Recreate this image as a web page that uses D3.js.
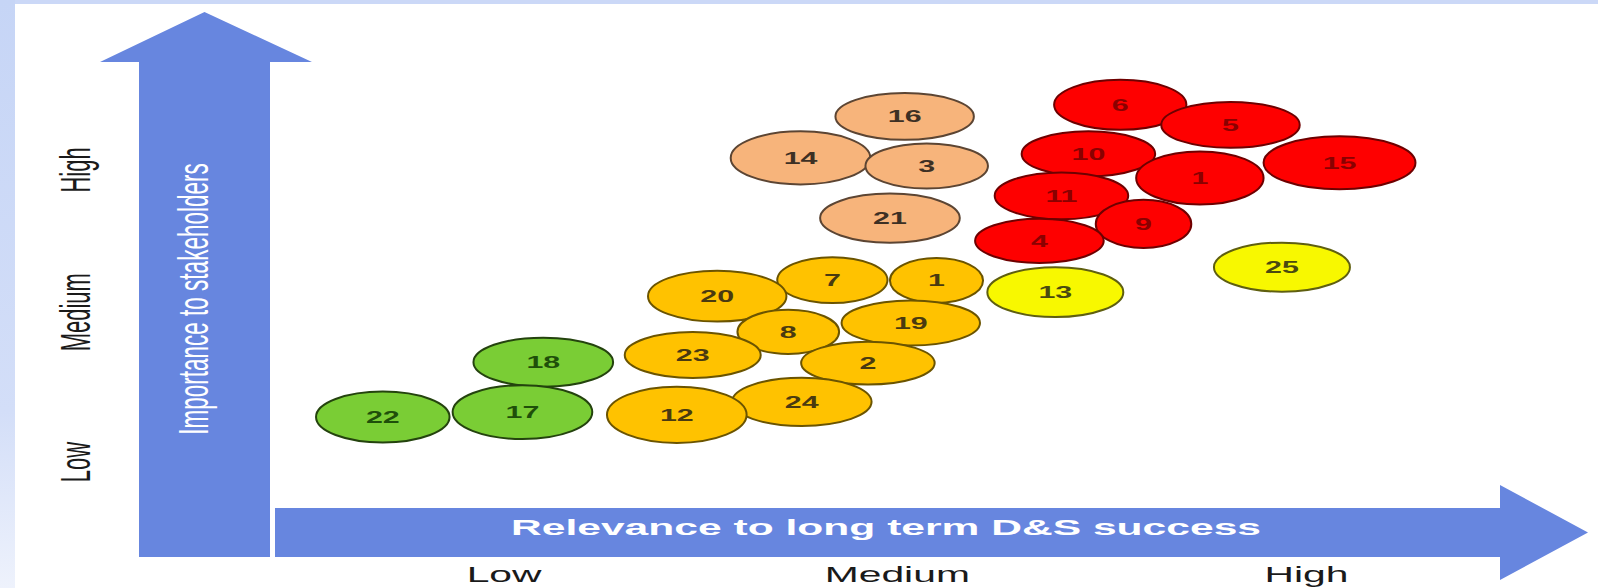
<!DOCTYPE html>
<html>
<head>
<meta charset="utf-8">
<script src="https://cdn.jsdelivr.net/npm/d3@7"></script>
<style>
  html, body { margin: 0; padding: 0; background: #ffffff; }
  svg { display: block; }
  text { font-family: "Liberation Sans", Arial, Helvetica, sans-serif; }
</style>
</head>
<body>
<div id="chart"></div>
<script>
// Materiality matrix: issue number, relevance (x), importance (y)
const issueIds = ["16", "14", "3", "21", "6", "5", "10", "1", "15", "11", "9", "4", "13", "25",
                  "20", "7", "1", "8", "19", "23", "2", "12", "24", "22", "17", "18"];
const relevance = [51.4, 42.9, 53.2, 50.2, 69.0, 78.0, 66.4, 75.5, 86.9, 64.2, 70.9, 62.4, 63.7, 82.2,
                   36.1, 45.5, 54.0, 41.9, 51.9, 34.1, 48.4, 32.8, 43.0, 8.8, 20.2, 21.9];
const importance = [87.8, 78.5, 76.7, 65.0, 90.4, 85.9, 79.4, 74.0, 77.4, 70.0, 63.7, 59.9, 48.4, 54.0,
                    47.5, 51.1, 51.0, 39.5, 41.5, 34.3, 32.5, 20.9, 23.8, 20.4, 21.5, 32.7];
// spread of each assessment along each axis (full width of the bubble, in axis units)
const relevanceSpread = [11.3, 11.4, 10.0, 11.4, 10.8, 11.3, 10.9, 10.4, 12.4, 10.9, 7.8, 10.5, 11.1, 11.1,
                         11.3, 9.0, 7.6, 8.3, 11.3, 11.1, 10.9, 11.4, 11.4, 10.9, 11.4, 11.4];
const importanceSpread = [10.5, 11.9, 10.1, 11.0, 11.2, 10.3, 10.1, 11.9, 11.9, 10.5, 10.8, 9.9, 11.2, 11.0,
                          11.4, 10.3, 10.1, 9.9, 10.1, 10.3, 9.6, 12.6, 10.8, 11.4, 12.1, 11.0];
const tiers = ["peach", "peach", "peach", "peach",
               "red", "red", "red", "red", "red", "red", "red", "red",
               "yellow", "yellow",
               "amber", "amber", "amber", "amber", "amber", "amber", "amber", "amber", "amber",
               "green", "green", "green"];

const tierNames = ["red", "peach", "yellow", "amber", "green"];
const xTickLabels = ["Low", "Medium", "High"];
const xTickValues = [18.7, 50.8, 84.2];
const yTickLabels = ["Low", "Medium", "High"];
const yTickValues = [10.3, 43.9, 75.8];
const xTitle = "Relevance to long term D&S success";
const yTitle = "Importance to stakeholders";

const W = 1598, H = 588;
const STRETCH = 1.9;           // wide-format slide: glyphs are stretched horizontally
const ARROW = "#6786df";

const x = d3.scaleLinear().domain([0, 100]).range([275, 1500]);
const y = d3.scaleLinear().domain([0, 100]).range([508, 62]);

const fill = d3.scaleOrdinal().domain(tierNames)
  .range(["#fe0000", "#f7b47b", "#f8f800", "#ffc200", "#7acd35"]);
const stroke = d3.scaleOrdinal().domain(tierNames)
  .range(["#6e0000", "#5c4533", "#5f5f10", "#6b5400", "#24430e"]);
const ink = d3.scaleOrdinal().domain(tierNames)
  .range(["#8a0000", "#3d3024", "#4a4a10", "#4a3a10", "#1f4f0a"]);

const svg = d3.select("#chart").append("svg")
  .attr("width", W).attr("height", H);

// slide frame
const defs = svg.append("defs");
const grad = defs.append("linearGradient").attr("id", "edge")
  .attr("x1", 0).attr("y1", 0).attr("x2", 0).attr("y2", 1);
grad.append("stop").attr("offset", "0%").attr("stop-color", "#c6d5f6");
grad.append("stop").attr("offset", "70%").attr("stop-color", "#d3def8");
grad.append("stop").attr("offset", "100%").attr("stop-color", "#eef2fc");
svg.append("rect").attr("x", 0).attr("y", 0).attr("width", W).attr("height", H).attr("fill", "#ffffff");
svg.append("rect").attr("x", 0).attr("y", 0).attr("width", W).attr("height", 4).attr("fill", "#cbd8f7");
svg.append("rect").attr("x", 0).attr("y", 0).attr("width", 15).attr("height", H).attr("fill", "url(#edge)");

// axis arrows, built from the scale ranges
const [x0, x1] = x.range();
const [y0, y1] = y.range();
const vShaft = [139, 270];
const vMid = (vShaft[0] + vShaft[1]) / 2;
const vertArrow = [
  [vShaft[0], 557], [vShaft[0], y1], [100, y1], [vMid, 12],
  [312, y1], [vShaft[1], y1], [vShaft[1], 557]
];
const hShaft = [y0, 557];
const hMid = (hShaft[0] + hShaft[1]) / 2;
const horizArrow = [
  [x0, hShaft[0]], [x1, hShaft[0]], [x1, 485], [1588, hMid],
  [x1, 580], [x1, hShaft[1]], [x0, hShaft[1]]
];
const line = d3.line();
svg.append("path").attr("d", line(vertArrow) + "Z").attr("fill", ARROW);
svg.append("path").attr("d", line(horizArrow) + "Z").attr("fill", ARROW);

// axis titles inside the arrows
svg.append("text")
  .attr("transform", `translate(208,299) scale(${STRETCH},1) rotate(-90)`)
  .attr("text-anchor", "middle")
  .attr("font-size", 22.5)
  .attr("fill", "#ffffff")
  .text(yTitle);

svg.append("text")
  .attr("transform", `translate(886,535) scale(${STRETCH},1)`)
  .attr("text-anchor", "middle")
  .attr("font-size", 22.5)
  .attr("font-weight", "bold")
  .attr("fill", "#ffffff")
  .attr("textLength", 750 / STRETCH)
  .attr("lengthAdjust", "spacingAndGlyphs")
  .text(xTitle);

// tick labels
svg.append("g").selectAll("text")
  .data(xTickLabels)
  .join("text")
  .attr("transform", (d, i) => `translate(${x(xTickValues[i])},582) scale(${STRETCH},1)`)
  .attr("text-anchor", "middle")
  .attr("font-size", 21.5)
  .attr("fill", "#1a1a1a")
  .text(d => d);

svg.append("g").selectAll("text")
  .data(yTickLabels)
  .join("text")
  .attr("transform", (d, i) => `translate(90,${y(yTickValues[i])}) scale(${STRETCH},1) rotate(-90)`)
  .attr("text-anchor", "middle")
  .attr("font-size", 22)
  .attr("fill", "#1a1a1a")
  .text(d => d);

// bubbles
const issues = issueIds.map((id, i) => ({
  id, rel: relevance[i], imp: importance[i],
  relSpread: relevanceSpread[i], impSpread: importanceSpread[i], tier: tiers[i]
})).sort((a, b) => b.imp - a.imp);

const bubble = svg.append("g").selectAll("g")
  .data(issues)
  .join("g");

bubble.append("ellipse")
  .attr("cx", d => x(d.rel))
  .attr("cy", d => y(d.imp))
  .attr("rx", d => x(d.rel + d.relSpread / 2) - x(d.rel))
  .attr("ry", d => y(d.imp) - y(d.imp + d.impSpread / 2))
  .attr("fill", d => fill(d.tier))
  .attr("stroke", d => stroke(d.tier))
  .attr("stroke-width", 2);

bubble.append("text")
  .attr("transform", d => `translate(${x(d.rel)},${y(d.imp)}) scale(${STRETCH},1)`)
  .attr("text-anchor", "middle")
  .attr("dy", "0.36em")
  .attr("font-size", 16)
  .attr("font-weight", "bold")
  .attr("fill", d => ink(d.tier))
  .text(d => d.id);
</script>
</body>
</html>
